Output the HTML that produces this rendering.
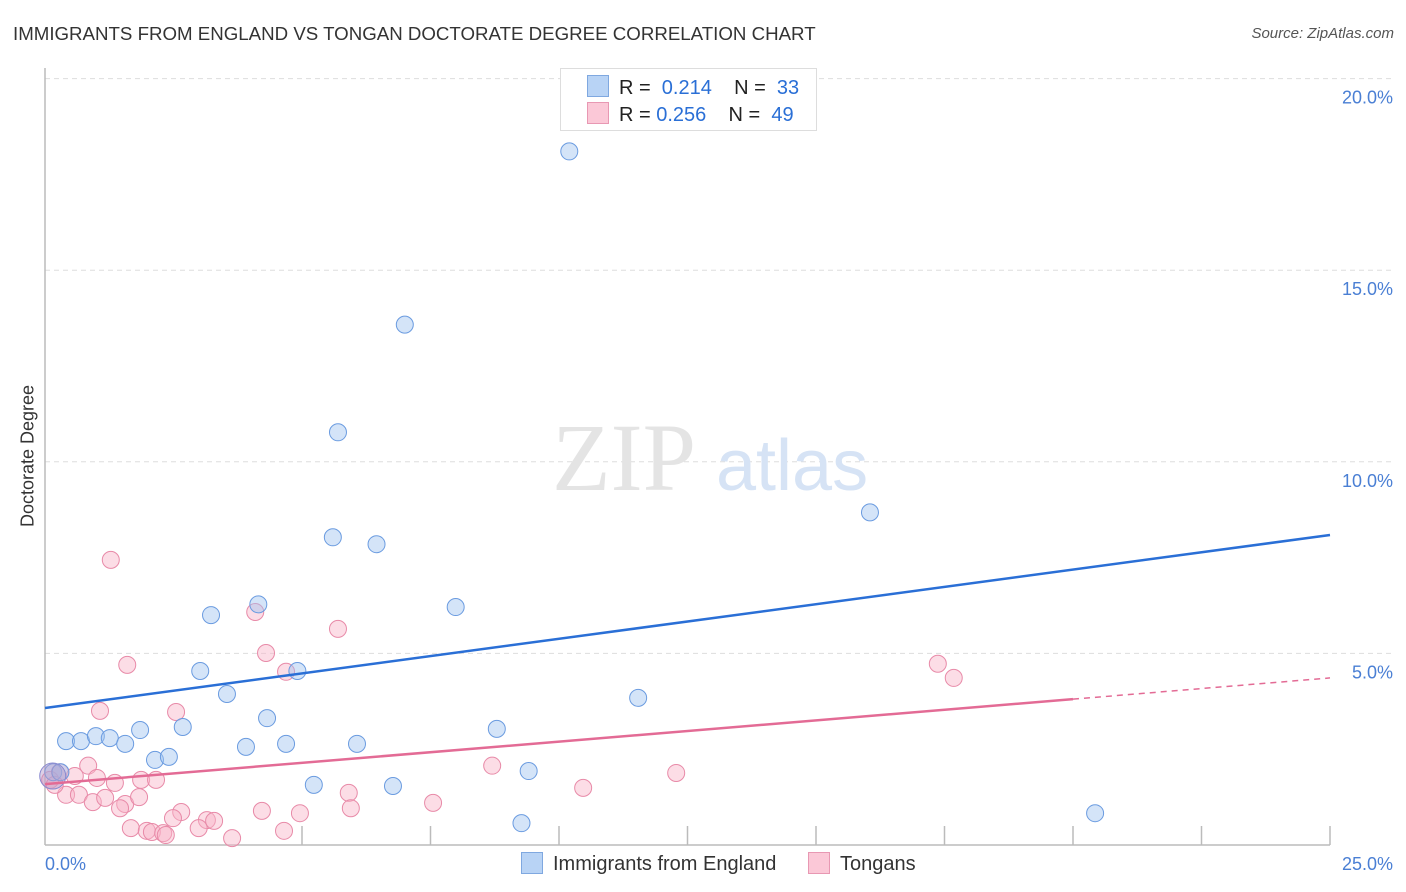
<!DOCTYPE html>
<html><head><meta charset="utf-8">
<style>
body{margin:0;background:#fff;font-family:"Liberation Sans",sans-serif;}
#wrap{position:relative;width:1406px;height:892px;overflow:hidden;}
.t{position:absolute;white-space:nowrap;}
</style></head>
<body>
<div id="wrap">
<div class="t" style="left:13px;top:23px;font-size:18.7px;color:#333;">IMMIGRANTS FROM ENGLAND VS TONGAN DOCTORATE DEGREE CORRELATION CHART</div>
<div class="t" style="right:12px;top:25px;font-size:15px;color:#555;font-style:italic;">Source: ZipAtlas.com</div>
<div class="t" style="left:28px;top:456px;font-size:18px;color:#333;transform:translate(-50%,-50%) rotate(-90deg);">Doctorate Degree</div>
<svg id="chart" width="1406" height="892" style="position:absolute;left:0;top:0"></svg>
</div>
<script>
const blueX=[10.2,7.0,5.7,16.05,5.6,6.45,4.15,3.23,7.99,3.02,4.91,3.54,11.54,4.32,2.68,1.85,8.79,0.41,0.7,0.99,1.26,1.56,3.91,4.69,6.07,2.14,2.41,9.41,5.23,6.77,9.27,20.43,0.16,0.3];
const blueY=[18.1,13.58,10.77,8.68,8.03,7.85,6.28,6.0,6.21,4.54,4.54,3.94,3.84,3.31,3.08,3.0,3.03,2.71,2.71,2.84,2.79,2.64,2.56,2.64,2.64,2.22,2.3,1.93,1.57,1.54,0.57,0.83,1.9,1.9];
const pinkX=[1.28,4.09,5.7,1.6,4.3,4.69,1.07,2.55,17.37,17.68,8.7,12.28,0.84,0.29,0.58,1.01,1.36,1.87,2.16,0.41,0.66,0.93,1.17,1.56,1.83,1.46,5.91,10.47,7.55,2.65,4.22,4.96,5.95,2.49,3.15,3.29,1.67,1.98,2.08,2.3,2.99,4.65,2.35,3.64,0.1,0.19];
const pinkY=[7.44,6.08,5.64,4.7,5.01,4.52,3.5,3.47,4.73,4.36,2.07,1.88,2.07,1.9,1.8,1.75,1.62,1.7,1.7,1.31,1.31,1.12,1.23,1.07,1.25,0.96,1.36,1.49,1.1,0.86,0.89,0.83,0.96,0.7,0.65,0.63,0.44,0.37,0.34,0.31,0.44,0.37,0.26,0.18,1.70,1.57];
const blueTrend=[3.575,8.09];
const pinkTrend=[1.59,4.36];
const pinkSolidEnd=20.0;
const yTicks=[5,10,15,20];
const yTickLabels=["5.0%","10.0%","15.0%","20.0%"];
const xTicks=[5,7.5,10,12.5,15,17.5,20,22.5,25];

const X0=45,X1=1330,Y0=845,PX=191.6/5;
const sx=v=>X0+(v/25)*(X1-X0);
const sy=v=>Y0-v*PX;
const svg=document.getElementById('chart');
const NS='http://www.w3.org/2000/svg';
function mk(tag,attrs){const e=document.createElementNS(NS,tag);for(const k in attrs)e.setAttribute(k,attrs[k]);svg.appendChild(e);return e;}

yTicks.forEach((v,i)=>{
 const g=mk('line',{x1:X0,x2:1392,y1:sy(v),y2:sy(v),stroke:'#ddd','stroke-dasharray':'5,4','stroke-width':1});
 
 
 const t=mk('text',{x:1393,y:sy(v)+25,'text-anchor':'end','font-size':18,fill:'#4a7fd4','font-family':'Liberation Sans, sans-serif'});
 t.textContent=yTickLabels[i];
 
 
});
const ax=mk('line',{x1:X0,x2:X0,y1:68,y2:Y0,stroke:'#bbb','stroke-width':1.5});


const bx=mk('line',{x1:X0,x2:X1,y1:Y0,y2:Y0,stroke:'#bbb','stroke-width':1.5});


xTicks.forEach(v=>{
 const l=mk('line',{x1:sx(v),x2:sx(v),y1:826,y2:Y0,stroke:'#bbb','stroke-width':1.5});
 
 
});
const xl=mk('text',{x:45,y:870,'font-size':18,fill:'#4a7fd4','font-family':'Liberation Sans, sans-serif'});xl.textContent='0.0%';


const xr=mk('text',{x:1393,y:870,'text-anchor':'end','font-size':18,fill:'#4a7fd4','font-family':'Liberation Sans, sans-serif'});xr.textContent='25.0%';



const w1=mk('text',{x:552,y:490,'font-size':96,fill:'#e4e4e4','font-family':'Liberation Serif, serif'});w1.textContent='ZIP';


const w2=mk('text',{x:716,y:490,'font-size':72,fill:'#d6e3f5','font-family':'Liberation Sans, sans-serif'});w2.textContent='atlas';



pinkX.forEach((v,i)=>{
 const c=mk('circle',{cx:sx(v),cy:sy(pinkY[i]),r:8.5,fill:'rgba(248,180,200,0.45)',stroke:'#e88aa8','stroke-width':1});
 
 
});
blueX.forEach((v,i)=>{
 const c=mk('circle',{cx:sx(v),cy:sy(blueY[i]),r:8.5,fill:'rgba(160,196,240,0.45)',stroke:'#6a9be0','stroke-width':1});
 
 
});
const big=mk('circle',{cx:sx(0.15),cy:sy(1.8),r:13,fill:'rgba(180,150,200,0.45)',stroke:'#8a8ad0','stroke-width':1});



const bl=mk('line',{x1:sx(0),y1:sy(blueTrend[0]),x2:sx(25),y2:sy(blueTrend[1]),stroke:'#2a6fd6','stroke-width':2.5});


const pAt=v=>pinkTrend[0]+(pinkTrend[1]-pinkTrend[0])*v/25;
const pl=mk('line',{x1:sx(0),y1:sy(pinkTrend[0]),x2:sx(pinkSolidEnd),y2:sy(pAt(pinkSolidEnd)),stroke:'#e36b95','stroke-width':2.5});


const pd=mk('line',{x1:sx(pinkSolidEnd),y1:sy(pAt(pinkSolidEnd)),x2:sx(25),y2:sy(pinkTrend[1]),stroke:'#e36b95','stroke-width':1.5,'stroke-dasharray':'6,5'});


</script>
<div class="t" style="left:560px;top:68px;width:255px;height:61px;border:1px solid #ddd;background:#fff;">
 <div style="position:absolute;left:26px;top:6px;font-size:20px;color:#222;">
  <span style="display:inline-block;width:20px;height:20px;background:#b8d3f5;border:1px solid #7fa8e0;vertical-align:-3px;margin-right:10px;"></span>R = &nbsp;<span style="color:#2a6fd6">0.214</span>&nbsp;&nbsp;&nbsp; N = &nbsp;<span style="color:#2a6fd6">33</span></div>
 <div style="position:absolute;left:26px;top:33px;font-size:20px;color:#222;">
  <span style="display:inline-block;width:20px;height:20px;background:#fbc8d7;border:1px solid #e898b3;vertical-align:-3px;margin-right:10px;"></span>R = <span style="color:#2a6fd6">0.256</span>&nbsp;&nbsp;&nbsp; N = &nbsp;<span style="color:#2a6fd6">49</span></div>
</div>
<div class="t" style="left:521px;top:852px;font-size:20px;color:#333;">
 <span><span style="display:inline-block;width:20px;height:20px;background:#b8d3f5;border:1px solid #7fa8e0;vertical-align:-4px;margin-right:10px;"></span>Immigrants from England</span>
 <span style="margin-left:26px;"><span style="display:inline-block;width:20px;height:20px;background:#fbc8d7;border:1px solid #e898b3;vertical-align:-4px;margin-right:10px;"></span>Tongans</span>
</div>
</body></html>
